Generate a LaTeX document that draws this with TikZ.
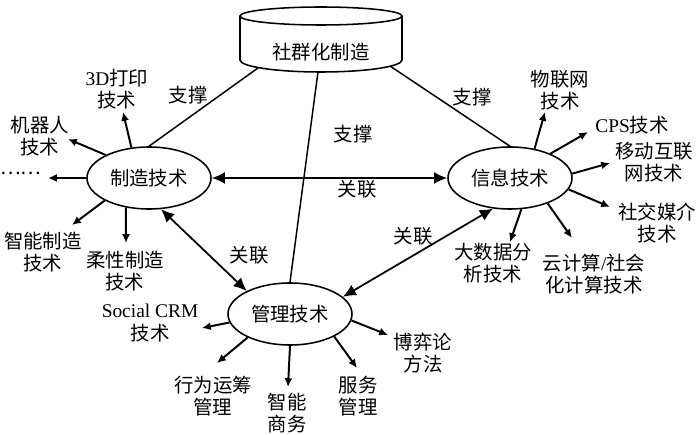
\documentclass[tikz,border=0pt]{standalone}
\usepackage{fontspec}
\setmainfont{Liberation Serif}
\newfontfamily\cjk{Noto Sans CJK SC}
\usetikzlibrary{arrows.meta}
\usetikzlibrary{shapes.geometric}

\begin{document}
\begin{tikzpicture}[x=0.025cm,y=0.025cm,
                        font=\cjk\fontsize{13.8}{16}\selectfont,
                        jishu/.style={ellipse,draw,line width=1.1pt,minimum width=3.1cm,minimum height=1.55cm,inner sep=0pt},
                        lab/.style={align=center,inner sep=0pt},
                        zhicheng/.style={line width=1.05pt},
                        guanlian/.style={line width=1.25pt,{Latex[length=0.33cm,width=0.3cm]}-{Latex[length=0.33cm,width=0.3cm]}},
                        fenzhi/.style={line width=1.4pt,-{Latex[length=0.22cm,width=0.2cm]}}]
                        \useasboundingbox (0,0) rectangle (700,435);
                        % 社群化制造
                        \draw[line width=1.1pt] (240,419) -- (240,375) arc[start angle=180,end angle=360,x radius=81,y radius=12] -- (402,419);
                        \draw[line width=1.1pt] (321,419) ellipse[x radius=81,y radius=9];
                        \node (sq) at (321,383) {社群化制造};
                        \coordinate (sqL) at (258,367);
                        \coordinate (sqM) at (318,363);
                        \coordinate (sqR) at (390,369);
                        % 三类技术
                        \node[jishu] (zz) at (149,257) {制造技术};
                        \node[jishu] (xx) at (510,257) {信息技术};
                        \node[jishu] (gl) at (290,121) {管理技术};
                        % 支撑
                        \draw[zhicheng] (sqL) -- (zz.north);
                        \draw[zhicheng] (sqR) -- (xx.north);
                        \draw[zhicheng] (sqM) -- (gl.north);
                        \node (zc1) at (188,340) {支撑};
                        \node (zc2) at (472,338) {支撑};
                        \node (zc3) at (353,301) {支撑};
                        % 关联
                        \draw[guanlian] (zz.east) -- (xx.west);
                        \draw[guanlian] (zz.291) -- (gl.152);
                        \draw[guanlian] (xx.241) -- (gl.18);
                        \node (lk1) at (357,246) {关联};
                        \node (lk2) at (249,180) {关联};
                        \node (lk3) at (413,199) {关联};
                        % 制造技术
                        \node[lab] (zz1) at (117,346) {{\rmfamily 3D}打印\\技术};
                        \node[lab] (zz2) at (40,299) {机器人\\技术};
                        \node[lab] (zz3) at (21,262) {……};
                        \node[lab] (zz4) at (43,183) {智能制造\\技术};
                        \node[lab] (zz5) at (125,164) {柔性制造\\技术};
                        \coordinate (zz1e) at (123,323);
                        \coordinate (zz2e) at (68,296);
                        \coordinate (zz3e) at (48,257);
                        \coordinate (zz4e) at (72,210);
                        \coordinate (zz5e) at (126,192);
                        \draw[fenzhi] (zz.120) -- (zz1e);
                        \draw[fenzhi] (zz.152) -- (zz2e);
                        \draw[fenzhi] (zz.west) -- (zz3e);
                        \draw[fenzhi] (zz.207) -- (zz4e);
                        \draw[fenzhi] (zz.232) -- (zz5e);
                        % 信息技术
                        \node[lab] (xx1) at (560,345) {物联网\\技术};
                        \node[lab] (xx2) at (632,310) {{\rmfamily CPS}技术};
                        \node[lab] (xx3) at (654,273) {移动互联\\网技术};
                        \node[lab] (xx4) at (657,212) {社交媒介\\技术};
                        \node[lab] (xx5) at (493,172) {大数据分\\析技术};
                        \node[lab] (xx6) at (594,161) {云计算{\rmfamily /}社会\\化计算技术};
                        \coordinate (xx1e) at (545,323);
                        \coordinate (xx2e) at (588,303);
                        \coordinate (xx3e) at (610,272);
                        \coordinate (xx4e) at (610,228);
                        \coordinate (xx5e) at (510,193);
                        \coordinate (xx6e) at (572,197);
                        \draw[fenzhi] (xx.50) -- (xx1e);
                        \draw[fenzhi] (xx.31) -- (xx2e);
                        \draw[fenzhi] (xx.4) -- (xx3e);
                        \draw[fenzhi] (xx.349) -- (xx4e);
                        \draw[fenzhi] (xx.290) -- (xx5e);
                        \draw[fenzhi] (xx.326) -- (xx6e);
                        % 管理技术
                        \node[lab] (gl1) at (150,112) {{\rmfamily Social CRM}\\技术};
                        \node[lab] (gl2) at (213,39) {行为运筹\\管理};
                        \node[lab] (gl3) at (287,22) {智能\\商务};
                        \node[lab] (gl4) at (358,39) {服务\\管理};
                        \node[lab] (gl5) at (423,82) {博弈论\\方法};
                        \coordinate (gl1e) at (202,107);
                        \coordinate (gl2e) at (217,72);
                        \coordinate (gl3e) at (288,48);
                        \coordinate (gl4e) at (357,67);
                        \coordinate (gl5e) at (388,100);
                        \draw[fenzhi] (gl.188) -- (gl1e);
                        \draw[fenzhi] (gl.209) -- (gl2e);
                        \draw[fenzhi] (gl.south) -- (gl3e);
                        \draw[fenzhi] (gl.333) -- (gl4e);
                        \draw[fenzhi] (gl.354) -- (gl5e);
                    \end{tikzpicture}
\end{document}
